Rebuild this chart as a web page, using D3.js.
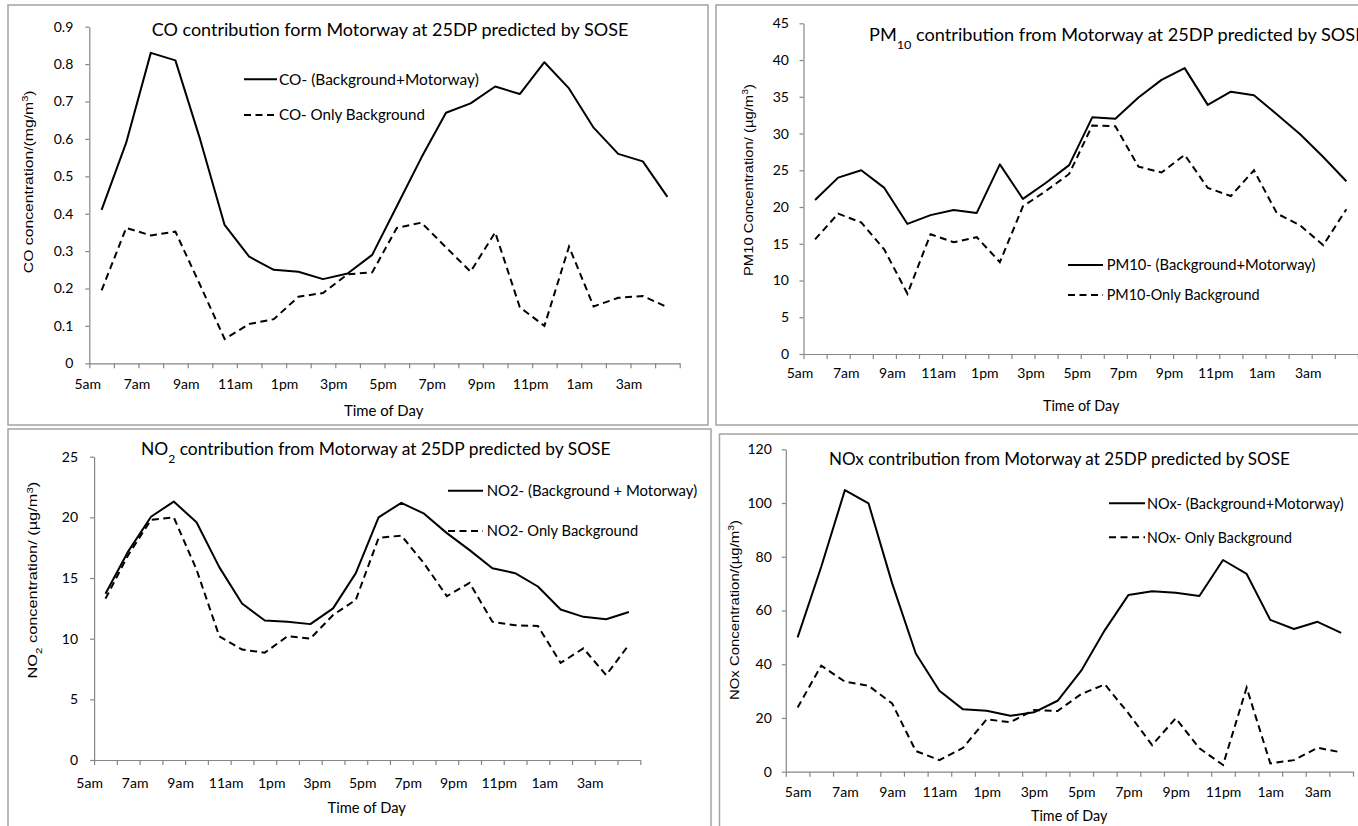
<!DOCTYPE html>
<html><head><meta charset="utf-8">
<script src="https://cdn.jsdelivr.net/npm/d3@7"></script>
<style>
html,body{margin:0;padding:0;background:#fff;}
svg{display:block;}
</style></head><body>
<svg id="c" width="1358" height="826"></svg>
<script>
// ---------- data ----------
const hours = ["5am","6am","7am","8am","9am","10am","11am","12pm","1pm","2pm","3pm","4pm",
               "5pm","6pm","7pm","8pm","9pm","10pm","11pm","12am","1am","2am","3am","4am"];
const xTickLabels = ["5am","7am","9am","11am","1pm","3pm","5pm","7pm","9pm","11pm","1am","3am"];

const coTotal = [0.41,0.59,0.83,0.81,0.60,0.37,0.285,0.25,0.245,0.225,0.24,0.29,0.42,0.55,0.67,0.695,0.74,0.72,0.805,0.735,0.63,0.56,0.54,0.445];
const coBackground = [0.195,0.362,0.342,0.352,0.21,0.065,0.105,0.118,0.178,0.188,0.238,0.243,0.362,0.376,0.31,0.245,0.35,0.15,0.10,0.312,0.152,0.175,0.18,0.15];
const coTicks = [0,0.1,0.2,0.3,0.4,0.5,0.6,0.7,0.8,0.9];
const coTickLabels = ["0","0.1","0.2","0.3","0.4","0.5","0.6","0.7","0.8","0.9"];

const pm10Total = [20.95,24.0,25.0,22.6,17.7,18.9,19.6,19.2,25.8,21.1,23.3,25.7,32.2,32.0,34.9,37.3,38.9,33.9,35.7,35.2,32.6,29.9,26.8,23.5];
const pm10Background = [15.6,19.1,17.9,14.2,8.2,16.3,15.2,15.9,12.5,20.1,22.2,24.5,31.1,31.0,25.5,24.7,27.1,22.6,21.5,25.0,19.1,17.5,14.8,19.7];
const pm10Ticks = [0,5,10,15,20,25,30,35,40,45];

const no2Total = [13.7,17.2,20.05,21.3,19.6,15.9,12.9,11.5,11.4,11.2,12.5,15.4,20.0,21.2,20.3,18.7,17.3,15.8,15.4,14.3,12.4,11.8,11.6,12.2];
const no2Background = [13.3,16.9,19.8,20.0,15.7,10.2,9.1,8.85,10.2,10.0,11.95,13.2,18.3,18.5,16.2,13.5,14.6,11.4,11.1,11.05,8.0,9.2,7.0,9.5];
const no2Ticks = [0,5,10,15,20,25];

const noxTotal = [50.0,76.3,104.8,99.9,70.1,44.0,30.1,23.2,22.7,20.8,22.1,26.4,37.6,52.7,65.8,67.2,66.6,65.4,78.8,73.6,56.5,53.1,55.8,51.7];
const noxBackground = [23.9,39.5,33.5,32.0,25.4,7.7,4.3,8.9,19.5,18.4,23.0,22.6,28.9,32.5,21.7,9.9,19.9,8.7,2.5,31.3,3.1,4.3,8.9,7.2];
const noxTicks = [0,20,40,60,80,100,120];

const coLegend = ["CO- (Background+Motorway)","CO- Only Background"];
const pm10Legend = ["PM10- (Background+Motorway)","PM10-Only Background"];
const no2Legend = ["NO2- (Background + Motorway)","NO2- Only Background"];
const noxLegend = ["NOx- (Background+Motorway)","NOx- Only Background"];

// ---------- helpers ----------
const CAL = "Lato, 'Open Sans', sans-serif";
const ARI = "'Liberation Sans', Arial, sans-serif";
const svg = d3.select("#c");

function addParts(text, parts){
  parts.forEach(p=>{
    const t = text.append("tspan").text(p[0]);
    if(p[1]==="sub"){ t.attr("baseline-shift","sub").attr("font-size","70%"); }
    if(p[1]==="sup"){ t.attr("baseline-shift","super").attr("font-size","70%"); }
  });
}
// horizontal text fitted to width, starting at x, baseline y
function fitH(g, parts, x, cy, width, fs, family){
  const t = g.append("text").attr("font-family",family).attr("font-size",fs).attr("fill","#000");
  addParts(t, parts);
  const w = t.node().getBBox().width;
  const k = width / w;
  t.attr("transform",`translate(${x},${cy + 0.36*fs}) scale(${k},1)`);
  return t;
}
function fitV(g, parts, cx, cy, len, fs, family){
  const t = g.append("text").attr("font-family",family).attr("font-size",fs).attr("fill","#000");
  addParts(t, parts);
  const w = t.node().getBBox().width;
  const k = len / w;
  t.attr("transform",`translate(${cx + 0.36*fs},${cy + len/2}) rotate(-90) scale(${k},1)`);
  return t;
}

function drawPanel(p){
  const g = svg.append("g");
  g.append("rect").attr("x",p.box[0]).attr("y",p.box[1]).attr("width",p.box[2]-p.box[0]).attr("height",p.box[3]-p.box[1])
    .attr("fill","#fff").attr("stroke","#a3a3a3").attr("stroke-width",1.5);

  const n = hours.length;
  const x = d3.scaleLinear().domain([0,n]).range([p.x0,p.x1]);
  const y = d3.scaleLinear().domain([0,p.yMax]).range([p.y0,p.yTop]);

  // x ticks (category boundaries)
  const xa = g.append("g").attr("transform",`translate(0,${p.y0})`)
    .call(d3.axisBottom(x).tickValues(d3.range(n+1)).tickSize(5).tickSizeOuter(0).tickFormat(""));
  xa.selectAll("path,line").attr("stroke","#868686").attr("stroke-width",1.2);

  // x labels
  const labelPos = xTickLabels.map((d,i)=> i*2 + (p.centerLabels?0.5:0));
  const xl = g.append("g").attr("transform",`translate(${p.xdx},${p.y0})`)
    .call(d3.axisBottom(x).tickValues(labelPos).tickSize(0).tickPadding(p.xPad).tickFormat((d,i)=>xTickLabels[i]));
  xl.select(".domain").remove();
  xl.selectAll("text").attr("font-family",CAL).attr("font-size",14).attr("fill","#000");

  // y axis
  const ya = g.append("g").attr("transform",`translate(${p.x0},0)`)
    .call(d3.axisLeft(y).tickValues(p.ticks).tickSize(4).tickSizeOuter(0).tickPadding(p.yPad)
      .tickFormat((d,i)=>p.tickLabels ? p.tickLabels[i] : String(d)));
  ya.selectAll("path,line").attr("stroke","#868686").attr("stroke-width",1.2);
  ya.selectAll("text").attr("font-family",CAL).attr("font-size",14).attr("fill","#000");

  // lines
  const line = d3.line().x((d,i)=>x(i+0.5)).y(d=>y(d));
  g.append("path").datum(p.total).attr("d",line).attr("fill","none").attr("stroke","#000")
    .attr("stroke-width",2).attr("stroke-linejoin","round");
  g.append("path").datum(p.bg).attr("d",line).attr("fill","none").attr("stroke","#000")
    .attr("stroke-width",2).attr("stroke-dasharray","7,4.5");

  // title
  fitH(g, p.title, p.titleX, p.titleY, p.titleW, 16.5, CAL);

  // legend
  const L = p.leg;
  g.append("line").attr("x1",L.x1).attr("x2",L.x2).attr("y1",L.y[0]).attr("y2",L.y[0])
    .attr("stroke","#000").attr("stroke-width",2);
  g.append("line").attr("x1",L.x1).attr("x2",L.x2).attr("y1",L.y[1]).attr("y2",L.y[1])
    .attr("stroke","#000").attr("stroke-width",2).attr("stroke-dasharray","7,4.5");
  fitH(g, [[p.legendText[0]]], L.tx, L.y[0], L.w[0], 15, CAL);
  fitH(g, [[p.legendText[1]]], L.tx, L.y[1], L.w[1], 15, CAL);

  // axis titles
  fitV(g, p.yTitle, p.yT[0], p.yT[1], p.yT[2], 12.5, ARI);
  fitH(g, [["Time of Day"]], p.xT[0]-p.xT[2]/2, p.xT[1], p.xT[2], 14.5, CAL);
}

const panels = [
  { box:[8,5,708,425], x0:89.3, x1:679.7, y0:363.3, yTop:26.7, yMax:0.9,
    ticks:coTicks, tickLabels:coTickLabels, total:coTotal, bg:coBackground,
    xdx:-2, xPad:16, yPad:12, centerLabels:false,
    title:[["CO contribution form Motorway at 25DP predicted by SOSE"]], titleX:151.7, titleY:30, titleW:477,
    legendText:coLegend, leg:{x1:244,x2:277,tx:279,y:[79.3,115],w:[200,146]},
    yTitle:[["CO concentration/(mg/m"],["3","sup"],[")"]], yT:[28,181.7,183],
    xT:[384,410.7,80] },
  { box:[716,5,1375,425], x0:803.5, x1:1357.9, y0:354, yTop:23.3, yMax:45,
    ticks:pm10Ticks, tickLabels:null, total:pm10Total, bg:pm10Background,
    xdx:-4, xPad:14.5, yPad:10.5, centerLabels:false,
    title:[["PM"],["10","sub"],[" contribution from Motorway at 25DP predicted by SOSE"]], titleX:869, titleY:35, titleW:497,
    legendText:pm10Legend, leg:{x1:1068,x2:1103,tx:1106.7,y:[265,295],w:[209,153]},
    yTitle:[["PM10 Concentration/ (µg/m"],["3","sup"],[")"]], yT:[748.5,180,192],
    xT:[1081.5,405.7,77] },
  { box:[8,429,711,840], x0:94.1, x1:640.3, y0:760, yTop:456.7, yMax:25,
    ticks:no2Ticks, tickLabels:null, total:no2Total, bg:no2Background,
    xdx:-5, xPad:17.7, yPad:12, centerLabels:false,
    title:[["NO"],["2","sub"],[" contribution from Motorway at 25DP predicted by SOSE"]], titleX:141, titleY:449, titleW:470,
    legendText:no2Legend, leg:{x1:448,x2:483,tx:486.7,y:[490.7,531],w:[210.6,151.6]},
    yTitle:[["NO"],["2","sub"],[" concentration/ (µg/m"],["3","sup"],[")"]], yT:[32.5,580,197],
    xT:[367,808,79] },
  { box:[719.5,434,1375,840], x0:785.8, x1:1353, y0:771.7, yTop:449.3, yMax:120,
    ticks:noxTicks, tickLabels:null, total:noxTotal, bg:noxBackground,
    xdx:0, xPad:15, yPad:10, centerLabels:true,
    title:[["NOx contribution from Motorway at 25DP predicted by SOSE"]], titleX:829, titleY:459.3, titleW:461,
    legendText:noxLegend, leg:{x1:1109,x2:1145,tx:1147,y:[503.3,537.3],w:[197,145]},
    yTitle:[["NOx Concentration/(µg/m"],["3","sup"],[")"]], yT:[734,610,180],
    xT:[1069.5,816,77] }
];
panels.forEach(drawPanel);
</script>
</body></html>
